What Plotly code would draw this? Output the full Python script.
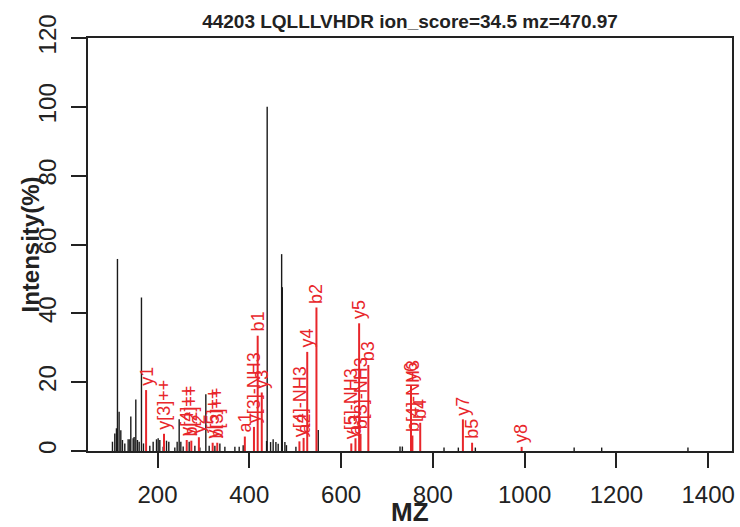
import plotly.graph_objects as go

# unmatched peaks (m/z, relative intensity %)
peak_mz = [101.8, 106.9, 110.5, 112.7, 116.3, 120.0, 123.6, 128.7, 136.0, 139.6,
           141.8, 146.9, 149.0, 152.7, 156.3, 160.0, 165.0, 169.4, 183.2, 190.5,
           197.8, 201.4, 205.0, 212.3, 219.6, 224.6, 237.7, 242.8, 247.2, 250.8,
           255.9, 269.0, 281.4, 292.3, 305.3, 312.6, 325.0, 335.9, 346.8, 368.6,
           378.0, 386.7, 437.7, 439.0, 446.4, 452.0, 458.0, 463.0, 470.5, 472.0,
           477.6, 481.0, 501.6, 550.3, 728.5, 733.6, 824.4, 855.6, 892.7, 1108.0,
           1168.0, 1356.0]
peak_int = [2.7, 5.1, 6.6, 55.8, 11.4, 6.0, 3.2, 2.2, 3.4, 3.4,
            10.0, 3.7, 4.1, 15.0, 3.2, 2.7, 44.6, 2.2, 1.5, 2.7,
            3.4, 3.7, 3.2, 1.2, 3.0, 2.7, 1.0, 2.7, 9.2, 2.7,
            1.3, 2.7, 1.5, 1.0, 16.5, 1.5, 1.5, 2.2, 1.2, 1.2,
            1.2, 1.7, 2.9, 100.0, 2.6, 3.4, 2.6, 2.1, 57.2, 47.6,
            2.6, 1.7, 1.2, 6.1, 1.3, 1.3, 1.0, 1.0, 1.0, 1.0,
            1.0, 1.0]

# matched fragment ions
ion_mz = [175.12, 214.11, 263.64, 273.68, 290.15, 320.18, 330.22, 390.30, 410.18,
          418.30, 427.21, 509.25, 518.36, 526.27, 546.36, 622.33, 631.44, 639.36,
          642.41, 659.44, 752.44, 755.50, 772.52, 865.53, 885.61, 993.58]
ion_int = [17.7, 5.0, 3.2, 3.0, 4.0, 2.4, 2.4, 4.2, 7.0,
           33.5, 17.0, 2.8, 3.8, 28.8, 41.7, 2.2, 3.7, 37.1,
           5.0, 25.0, 19.0, 4.5, 8.2, 9.2, 2.4, 1.2]
ion_label = ["y1", "y[3]++", "y[4]++", "b[2]++", "y2", "y[5]++", "b[3]++", "a1", "y[3]-NH3",
             "b1", "y3", "y[4]-NH3", "a2", "y4", "b2", "y[5]-NH3", "a3", "y5",
             "b[3]-NH3", "b3", "y6", "b[4]-NH3", "b4", "y7", "b5", "y8"]

x_ticks = [200, 400, 600, 800, 1000, 1200, 1400]
y_ticks = [0, 20, 40, 60, 80, 100, 120]

RED = "#e8262b"


def sticks(xs, ys):
    sx, sy = [], []
    for x, y in zip(xs, ys):
        sx += [x, x, None]
        sy += [0, y, None]
    return sx, sy


fig = go.Figure()

bx, by = sticks(peak_mz, peak_int)
fig.add_trace(go.Scatter(x=bx, y=by, mode="lines",
                         line=dict(color="#1a1a1a", width=1.4), hoverinfo="skip"))

rx, ry = sticks(ion_mz, ion_int)
fig.add_trace(go.Scatter(x=rx, y=ry, mode="lines",
                         line=dict(color=RED, width=2), hoverinfo="skip"))

for mz, inten, lab in zip(ion_mz, ion_int, ion_label):
    fig.add_annotation(x=mz, y=inten, text=lab, textangle=-90,
                       xanchor="center", yanchor="bottom", yshift=2,
                       showarrow=False, font=dict(color=RED, size=18))

fig.add_annotation(xref="paper", yref="paper", x=0.5, y=-0.148, text="<b>MZ</b>",
                   showarrow=False, xanchor="center", yanchor="middle",
                   font=dict(size=26, color="#222"))
fig.add_annotation(xref="paper", yref="paper", x=-0.09, y=0.5, text="<b>Intensity(%)</b>",
                   textangle=-90, showarrow=False, xanchor="center", yanchor="middle",
                   font=dict(size=24, color="#222"))

fig.update_layout(
    template="none",
    width=740, height=527,
    margin=dict(l=88, r=8, t=38, b=76, autoexpand=False),
    paper_bgcolor="white", plot_bgcolor="white",
    showlegend=False,
    font=dict(family="Liberation Sans, Arial, sans-serif", color="#222"),
    title=dict(text="<b>44203 LQLLLVHDR ion_score=34.5 mz=470.97</b>",
               x=0.5, xref="paper", xanchor="center",
               y=1 - 21 / 527, yref="container", yanchor="middle",
               font=dict(size=19, color="#222")),
    xaxis=dict(range=[48.5, 1452], tickvals=x_ticks, ticks="outside", ticklen=15,
               tickwidth=1.5, tickcolor="#222", showgrid=False, zeroline=False,
               showline=True, linecolor="#222", linewidth=1.5, mirror=True,
               automargin=False, tickfont=dict(size=24), ticklabelstandoff=6),
    yaxis=dict(range=[0, 120], tickvals=y_ticks, ticks="outside", ticklen=15,
               tickwidth=1.5, tickcolor="#222", showgrid=False, zeroline=False,
               showline=True, linecolor="#222", linewidth=1.5, mirror=True,
               automargin=False, tickangle=-90, tickfont=dict(size=24),
               ticklabelstandoff=6),
)

# drop the default page margin so the figure sits at the window's corner
fig.write_html("out.html",
               config={"displayModeBar": False},
               post_script="document.body.style.margin='0';"
                           "document.body.style.overflow='hidden';")
